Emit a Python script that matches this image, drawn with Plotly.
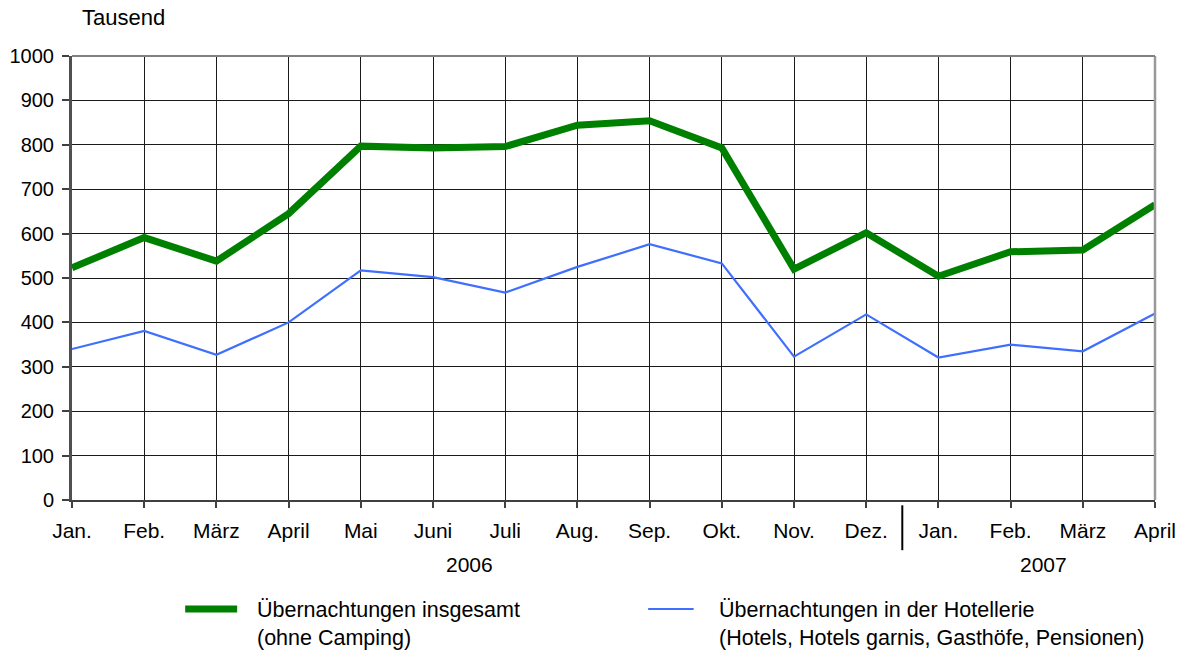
import plotly.graph_objects as go

months = ["Jan.", "Feb.", "März", "April", "Mai", "Juni", "Juli", "Aug.", "Sep.", "Okt.",
          "Nov.", "Dez.", "Jan.", "Feb.", "März", "April"]
insgesamt = [523, 591, 538, 645, 797, 793, 796, 844, 854, 793, 520, 602, 504, 559, 563, 665]
hotellerie = [340, 381, 327, 400, 517, 502, 467, 525, 576, 533, 323, 418, 321, 350, 335, 420]
y_ticks = [0, 100, 200, 300, 400, 500, 600, 700, 800, 900, 1000]
years = ["2006", "2007"]
name_total = "Übernachtungen insgesamt<br>(ohne Camping)"
name_hotel = "Übernachtungen in der Hotellerie<br>(Hotels, Hotels garnis, Gasthöfe, Pensionen)"

x = list(range(len(months)))
FONT = "Liberation Sans, Arial, sans-serif"

fig = go.Figure()
fig.add_trace(go.Scatter(x=x, y=insgesamt, mode="lines", line=dict(color="#008000", width=7),
                         name=name_total, showlegend=False))
fig.add_trace(go.Scatter(x=x, y=hotellerie, mode="lines", line=dict(color="#3f6fff", width=2.2),
                         name=name_hotel, showlegend=False))

fig.update_layout(
    width=1184, height=653,
    margin=dict(l=72, r=29, t=56, b=153),
    paper_bgcolor="white", plot_bgcolor="white",
    font=dict(family=FONT, size=20, color="black"),
    xaxis=dict(range=[0, len(months) - 1], tickmode="array", tickvals=x, ticktext=months,
               tickfont=dict(size=21), automargin=False,
               showgrid=True, gridcolor="#1a1a1a", gridwidth=1,
               ticks="outside", ticklen=6, tickcolor="#404040", tickwidth=1.5,
               showline=True, linecolor="#404040", linewidth=2, mirror=False,
               zeroline=False, ticklabelstandoff=5),
    yaxis=dict(range=[0, 1000], tickmode="array", tickvals=y_ticks,
               tickfont=dict(size=20), automargin=False,
               showgrid=True, gridcolor="#1a1a1a", gridwidth=1,
               ticks="outside", ticklen=7, tickcolor="#404040", tickwidth=1.5,
               showline=True, linecolor="#505050", linewidth=3,
               zeroline=False, ticklabelstandoff=4),
)

# right border and top line
fig.add_shape(type="line", xref="paper", yref="paper", x0=1, x1=1, y0=0, y1=1,
              line=dict(color="#999999", width=2.5))
fig.add_shape(type="line", xref="paper", yref="paper", x0=0, x1=1, y0=1, y1=1,
              line=dict(color="#808080", width=2))

# year separator
fig.add_shape(type="line", xref="x", yref="paper", x0=11.5, x1=11.5, y0=-0.012, y1=-0.113,
              line=dict(color="black", width=2))
fig.add_annotation(x=5.5, y=-0.146, xref="x", yref="paper", text=years[0], showarrow=False,
                   xanchor="center", yanchor="middle", font=dict(size=21))
fig.add_annotation(x=13.45, y=-0.146, xref="x", yref="paper", text=years[1], showarrow=False,
                   xanchor="center", yanchor="middle", font=dict(size=21))

# unit label
fig.add_annotation(x=0.007, y=1.086, xref="paper", yref="paper", text="Tausend", showarrow=False,
                   xanchor="left", yanchor="middle", font=dict(size=22))

# legend (manual)
fig.add_shape(type="line", xref="paper", yref="paper", x0=0.1045, x1=0.1525, y0=-0.2455, y1=-0.2455,
              line=dict(color="#008000", width=7))
fig.add_annotation(x=0.1688, y=-0.216, xref="paper", yref="paper", text=name_total, showarrow=False,
                   xanchor="left", yanchor="top", align="left", font=dict(size=21.5))
fig.add_shape(type="line", xref="paper", yref="paper", x0=0.532, x1=0.574, y0=-0.2455, y1=-0.2455,
              line=dict(color="#3f6fff", width=2.2))
fig.add_annotation(x=0.5955, y=-0.216, xref="paper", yref="paper", text=name_hotel, showarrow=False,
                   xanchor="left", yanchor="top", align="left", font=dict(size=21.5))

fig.write_html("out.html", config={"displayModeBar": False},
               post_script="document.body.style.margin='0';document.body.style.overflow='hidden';")
